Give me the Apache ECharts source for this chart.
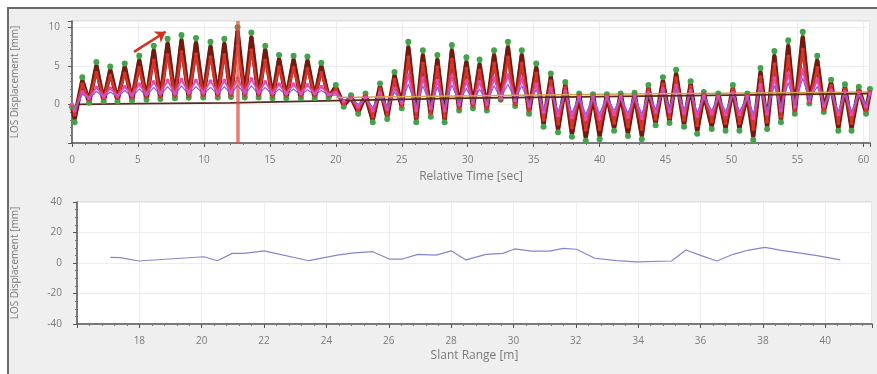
<!DOCTYPE html>
<html>
<head>
<meta charset="utf-8">
<script src="https://cdn.jsdelivr.net/npm/echarts@6/dist/echarts.min.js"></script>
<style>
  html, body { margin: 0; padding: 0; background: #fff; }
  #chart { width: 877px; height: 374px; }
</style>
</head>
<body>
<div id="chart"></div>
<script>
// top panel: LOS displacement vs time, samples at troughs / peaks of each cycle
const timeSec = [
  0.0, 0.2, 0.78, 1.3, 1.85, 2.4, 2.9, 3.45, 4.0, 4.55,
  5.1, 5.65, 6.2, 6.7, 7.25, 7.8, 8.3, 8.85, 9.4, 9.95,
  10.5, 11.05, 11.55, 12.05, 12.55, 13.1, 13.6, 14.15, 14.65, 15.2,
  15.7, 16.25, 16.8, 17.35, 17.85, 18.4, 18.9, 19.45, 20.0, 20.6,
  21.15, 21.7, 22.25, 22.8, 23.35, 23.9, 24.45, 25.0, 25.5, 26.1,
  26.6, 27.2, 27.7, 28.25, 28.8, 29.35, 29.9, 30.4, 30.9, 31.45,
  32.0, 32.5, 33.05, 33.6, 34.1, 34.65, 35.2, 35.75, 36.3, 36.85,
  37.4, 37.9, 38.45, 38.95, 39.5, 40.0, 40.55, 41.1, 41.6, 42.15,
  42.65, 43.2, 43.7, 44.25, 44.8, 45.3, 45.8, 46.4, 46.9, 47.4,
  47.9, 48.5, 49.0, 49.55, 50.1, 50.6, 51.2, 51.65, 52.2, 52.7,
  53.25, 53.75, 54.3, 54.8, 55.4, 55.9, 56.5, 57.0, 57.55, 58.1,
  58.6, 59.1, 59.65, 60.2, 60.5
];
const greenMm = [
  -0.3, -2.3, 3.5, 0.2, 5.5, 0.4, 4.9, 0.4, 5.3, 0.5,
  6.3, 0.6, 7.6, 0.7, 8.5, 0.8, 9.0, 0.9, 8.6, 0.9,
  8.1, 0.9, 8.5, 1.0, 10.0, 0.9, 9.3, 0.9, 7.6, 0.8,
  6.4, 0.8, 6.3, 0.8, 6.2, 0.8, 5.4, 0.9, 2.5, -0.3,
  1.2, -1.2, 1.4, -2.3, 2.7, -1.9, 4.2, -0.5, 8.1, -2.3,
  7.0, -1.6, 6.4, -2.3, 7.7, -0.8, 6.1, -0.5, 5.8, -0.8,
  7.0, 0.6, 8.1, -0.2, 7.0, -1.2, 5.3, -2.9, 4.0, -3.6,
  2.9, -4.2, 1.4, -4.7, 1.3, -4.5, 1.3, -3.4, 1.4, -4.1,
  1.5, -4.5, 2.5, -2.7, 3.5, -2.4, 4.5, -2.9, 3.0, -3.8,
  1.6, -3.2, 1.4, -3.4, 2.5, -3.4, 1.4, -4.6, 4.7, -3.2,
  6.9, -2.3, 8.3, -1.2, 9.4, 0.1, 6.3, -1.0, 3.2, -3.4,
  2.6, -3.4, 2.3, -1.2, 2.0
];
const darkRedMm = [
  -0.2, -1.8, 3.0, 0.3, 4.9, 0.4, 4.4, 0.5, 4.8, 0.5,
  5.6, 0.6, 6.9, 0.7, 7.8, 0.8, 8.2, 0.8, 7.9, 0.9,
  7.4, 0.9, 7.8, 0.9, 9.4, 0.9, 8.6, 0.9, 7.0, 0.8,
  5.8, 0.8, 5.7, 0.8, 5.6, 0.8, 4.9, 0.9, 2.2, -0.1,
  1.0, -1.0, 1.2, -2.0, 2.3, -1.6, 3.7, -0.3, 7.3, -2.0,
  6.3, -1.3, 5.7, -2.0, 6.9, -0.6, 5.4, -0.3, 5.1, -0.6,
  6.3, 0.6, 7.3, -0.1, 6.3, -1.0, 4.7, -2.5, 3.5, -3.2,
  2.5, -3.8, 1.3, -4.2, 1.2, -4.0, 1.2, -3.0, 1.3, -3.7,
  1.3, -4.0, 2.1, -2.4, 3.0, -2.1, 3.9, -2.6, 2.6, -3.4,
  1.4, -2.8, 1.3, -3.0, 2.1, -3.0, 1.3, -4.1, 4.1, -2.8,
  6.2, -2.0, 7.5, -1.0, 8.6, 0.2, 5.6, -0.8, 2.8, -3.0,
  2.3, -3.0, 2.0, -1.0, 1.8
];
const redMm = [
  -0.1, -1.3, 2.6, 0.6, 4.1, 0.8, 3.7, 0.8, 4.0, 0.9,
  4.7, 1.0, 5.7, 1.0, 6.4, 1.1, 6.8, 1.1, 6.5, 1.2,
  6.1, 1.2, 6.4, 1.2, 7.5, 1.2, 7.0, 1.2, 5.7, 1.1,
  4.8, 1.1, 4.7, 1.1, 4.6, 1.1, 4.1, 1.1, 1.9, 0.1,
  0.9, -0.8, 1.1, -1.6, 2.0, -1.3, 3.2, -0.2, 6.1, -1.6,
  5.3, -1.1, 4.8, -1.6, 5.8, -0.5, 4.6, -0.2, 4.4, -0.5,
  5.3, 0.6, 6.1, 0.0, 5.3, -0.8, 4.0, -2.0, 3.0, -2.5,
  2.2, -3.0, 1.2, -3.3, 1.1, -3.2, 1.1, -2.4, 1.2, -2.9,
  1.2, -3.2, 1.9, -1.9, 2.6, -1.7, 3.4, -2.0, 2.3, -2.7,
  1.3, -2.2, 1.2, -2.4, 1.9, -2.4, 1.2, -3.2, 3.5, -2.2,
  5.2, -1.6, 6.2, -0.8, 7.1, 0.3, 4.7, -0.7, 2.4, -2.4,
  2.0, -2.4, 1.8, -0.8, 1.6
];
const pinkMm = [
  0.0, -0.8, 1.6, 0.8, 2.2, 1.0, 2.1, 1.1, 2.3, 1.2,
  2.6, 1.3, 2.9, 1.4, 3.1, 1.4, 3.2, 1.5, 3.1, 1.5,
  3.0, 1.5, 3.1, 1.5, 3.4, 1.5, 3.3, 1.5, 2.9, 1.4,
  2.6, 1.4, 2.6, 1.4, 2.5, 1.4, 2.3, 1.3, 1.5, 0.4,
  0.8, -0.3, 0.9, -0.8, 1.5, -0.6, 2.1, 0.2, 3.8, -0.8,
  3.4, -0.5, 3.1, -0.8, 3.6, 0.0, 3.0, 0.2, 2.9, 0.0,
  3.4, 0.8, 3.8, 0.5, 3.4, -0.2, 2.6, -1.0, 2.1, -1.4,
  1.7, -1.7, 1.0, -1.9, 1.0, -1.8, 1.0, -1.3, 1.0, -1.6,
  1.1, -1.8, 1.5, -1.0, 2.0, -0.9, 2.4, -1.1, 1.8, -1.5,
  1.1, -1.2, 1.0, -1.3, 1.5, -1.3, 1.0, -1.8, 2.5, -1.2,
  3.4, -0.8, 4.0, -0.3, 4.5, 0.5, 3.2, -0.2, 1.8, -1.3,
  1.6, -1.3, 1.5, -0.3, 1.4
];
const purpleMm = [
  0.0, -0.5, 1.3, 0.7, 1.7, 0.9, 1.6, 1.0, 1.8, 1.0,
  2.0, 1.1, 2.2, 1.2, 2.3, 1.2, 2.4, 1.3, 2.3, 1.3,
  2.2, 1.3, 2.3, 1.3, 2.5, 1.3, 2.4, 1.3, 2.2, 1.2,
  2.0, 1.2, 2.0, 1.2, 1.9, 1.2, 1.8, 1.2, 1.2, 0.5,
  0.8, 0.0, 0.9, -0.4, 1.2, -0.3, 1.6, 0.3, 2.6, -0.4,
  2.4, -0.2, 2.2, -0.4, 2.5, 0.2, 2.1, 0.3, 2.0, 0.2,
  2.4, 0.8, 2.6, 0.6, 2.4, 0.1, 1.9, -0.6, 1.6, -0.9,
  1.4, -1.1, 1.0, -1.3, 1.0, -1.2, 1.0, -0.8, 1.0, -1.1,
  1.0, -1.2, 1.3, -0.6, 1.6, -0.5, 1.8, -0.7, 1.4, -1.0,
  1.0, -0.8, 1.0, -0.9, 1.3, -0.9, 1.0, -1.2, 1.9, -0.8,
  2.4, -0.5, 2.8, -0.1, 3.4, 0.6, 2.3, 0.0, 1.4, -0.9,
  1.3, -0.9, 1.2, -0.1, 1.2
];
// slow drift lines
const baseTimeSec = [0.5, 5, 12, 20, 30, 45, 60.5];
const baseMm = [0.0, 0.1, 0.2, 0.5, 0.8, 1.1, 1.4];
const orangeTimeSec = [20, 40, 60.5];
const orangeMm = [0.9, 1.3, 1.6];
// annotations
const markerTimeSec = 12.55;
const arrowFrom = [4.7, 6.8];
const arrowTo = [7.1, 9.4];

// bottom panel: LOS displacement vs slant range
const slantRangeM = [
  17.07, 17.39, 17.98, 20.07, 20.5, 20.98, 21.35, 22.0, 23.44, 24.35,
  24.89, 25.48, 26.02, 26.44, 26.93, 27.52, 28.0, 28.48, 29.12, 29.66,
  30.04, 30.57, 31.16, 31.59, 32.02, 32.61, 33.31, 33.95, 35.07, 35.53,
  35.98, 36.52, 37.05, 37.54, 38.07, 38.55, 39.04, 39.74, 40.48
];
const slantDispMm = [
  3.7, 3.5, 1.3, 4.1, 1.5, 6.3, 6.3, 8.0, 1.5, 5.2,
  6.7, 7.4, 2.6, 2.6, 5.7, 5.2, 8.0, 2.0, 5.7, 6.3,
  9.2, 7.8, 7.8, 9.6, 9.0, 3.1, 1.5, 0.8, 1.3, 8.5,
  5.2, 1.3, 5.7, 8.5, 10.3, 8.5, 7.0, 4.8, 2.0
];

const zip = (xs, ys) => xs.map((x, i) => [x, ys[i]]);

const textColor = '#7a7a7a';
const fontFamily = '"Open Sans", "Noto Sans", sans-serif';

function xAxisCommon (name, gap) {
  return {
    type: 'value',
    name: name,
    nameLocation: 'middle',
    nameGap: gap,
    nameTextStyle: { color: textColor, fontSize: 12, fontFamily: fontFamily },
    axisLine: { show: true, onZero: false, lineStyle: { color: '#555', width: 1.5 } },
    axisTick: { show: true, length: 4, lineStyle: { color: '#555' } },
    minorTick: { show: true, splitNumber: 5, length: 2, lineStyle: { color: '#777' } },
    axisLabel: { color: textColor, fontSize: 10, margin: 12, fontFamily: fontFamily, showMaxLabel: false },
    splitLine: { show: true, lineStyle: { color: '#eeeeee' } }
  };
}

function yAxisCommon (gap, margin) {
  return {
    type: 'value',
    name: 'LOS Displacement [mm]',
    nameLocation: 'middle',
    nameGap: gap,
    nameRotate: 90,
    nameTextStyle: { color: textColor, fontSize: 10, fontFamily: fontFamily },
    axisLine: { show: true, lineStyle: { color: '#555', width: 1.5 } },
    axisTick: { show: true, length: 4, lineStyle: { color: '#555' } },
    minorTick: { show: true, splitNumber: 5, length: 2, lineStyle: { color: '#777' } },
    axisLabel: { color: textColor, fontSize: 10, margin: margin, fontFamily: fontFamily },
    splitLine: { show: true, lineStyle: { color: '#eeeeee' } }
  };
}

function wave (name, values, color, width, symbolSize) {
  return {
    name: name,
    type: 'line',
    xAxisIndex: 0,
    yAxisIndex: 0,
    data: zip(timeSec, values),
    showSymbol: symbolSize > 0,
    showAllSymbol: true,
    symbol: 'circle',
    symbolSize: symbolSize,
    itemStyle: { color: color },
    lineStyle: { color: color, width: width, join: 'round' },
    silent: true
  };
}

const chart = echarts.init(document.getElementById('chart'));

const xTop = xAxisCommon('Relative Time [sec]', 28);
xTop.gridIndex = 0;
xTop.min = 0;
xTop.max = 60.5;
xTop.interval = 5;

const xBottom = xAxisCommon('Slant Range [m]', 26);
xBottom.gridIndex = 1;
xBottom.min = 16;
xBottom.max = 41.5;
xBottom.interval = 2;
xBottom.axisLabel.showMinLabel = false;

const yTop = yAxisCommon(52, 12);
yTop.gridIndex = 0;
yTop.min = -5;
yTop.max = 10.8;
yTop.interval = 5;
yTop.axisLabel.showMinLabel = false;
yTop.axisLabel.showMaxLabel = false;

const yBottom = yAxisCommon(57, 15);
yBottom.gridIndex = 1;
yBottom.min = -40;
yBottom.max = 40;
yBottom.interval = 20;
yBottom.minorTick.splitNumber = 4;

chart.setOption({
  animation: false,
  backgroundColor: '#ffffff',
  graphic: [{
    type: 'rect',
    z: -10,
    shape: { x: 8, y: 8, width: 900, height: 400 },
    style: { fill: '#efefef', stroke: '#6a6a6a', lineWidth: 2 }
  }],
  grid: [
    { left: 72, right: 7, top: 21, height: 122, show: true, backgroundColor: '#fff', borderColor: '#cfcfcf', borderWidth: 1 },
    { left: 77, right: 5, top: 202, height: 122, show: true, backgroundColor: '#fff', borderColor: '#cfcfcf', borderWidth: 1 }
  ],
  xAxis: [xTop, xBottom],
  yAxis: [yTop, yBottom],
  series: [
    wave('green', greenMm, '#45a24c', 3, 6),
    wave('darkRed', darkRedMm, '#741911', 4.5, 0),
    wave('red', redMm, '#d5352a', 2.5, 4),
    wave('pink', pinkMm, '#e24bb4', 2, 4),
    wave('purple', purpleMm, '#8a5cd8', 1.2, 0),
    {
      name: 'orange',
      type: 'line',
      xAxisIndex: 0,
      yAxisIndex: 0,
      data: zip(orangeTimeSec, orangeMm),
      showSymbol: false,
      lineStyle: { color: '#d9a050', width: 1.5 },
      silent: true
    },
    {
      name: 'base',
      type: 'line',
      xAxisIndex: 0,
      yAxisIndex: 0,
      data: zip(baseTimeSec, baseMm),
      showSymbol: false,
      lineStyle: { color: '#5a2a1a', width: 1.8 },
      silent: true,
      markLine: {
        silent: true,
        animation: false,
        symbol: ['none', 'none'],
        label: { show: false },
        data: [
          { xAxis: markerTimeSec, lineStyle: { color: 'rgba(225,80,70,0.75)', width: 3.5, type: 'solid' } },
          [
            { coord: arrowFrom, symbol: 'none', lineStyle: { color: '#d2311f', width: 2.5, type: 'solid' } },
            { coord: arrowTo, symbol: 'arrow', symbolSize: 10 }
          ]
        ]
      }
    },
    {
      name: 'slant',
      type: 'line',
      xAxisIndex: 1,
      yAxisIndex: 1,
      data: zip(slantRangeM, slantDispMm),
      showSymbol: false,
      lineStyle: { color: '#8585d2', width: 1.2 },
      silent: true
    }
  ]
});
</script>
</body>
</html>
